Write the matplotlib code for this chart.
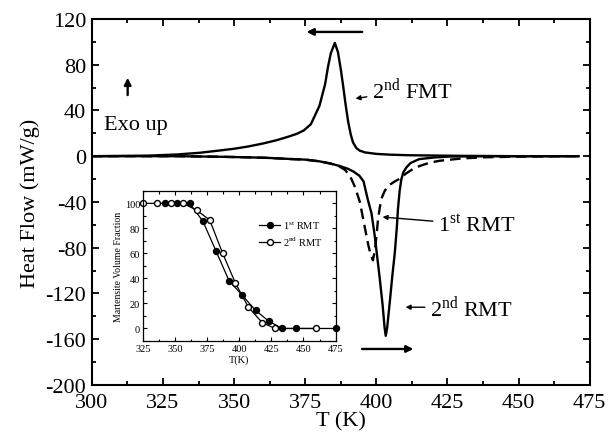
import matplotlib
matplotlib.use("Agg")
import matplotlib.pyplot as plt
from matplotlib.ticker import MultipleLocator

plt.rcParams["font.family"] = ["Liberation Serif", "DejaVu Serif"]
plt.rcParams["mathtext.fontset"] = "custom"
plt.rcParams["mathtext.rm"] = "Liberation Serif"
plt.rcParams["axes.unicode_minus"] = False

# DSC curves (T in K, heat flow in mW/g)
fmt2_T = [300, 320, 330, 338, 345, 350, 355, 360, 365, 369, 372, 374.5, 377, 380, 382, 383,
          384, 385.4, 386.5, 387.5, 388.3, 389.2, 390.1, 391, 391.8, 393, 394.2, 396, 400,
          405, 412, 430, 450, 471]
fmt2_V = [0, 0.5, 1.5, 3, 5, 6.5, 8.5, 11, 14, 17, 19.5, 22.5, 28, 44, 63, 78,
          90, 99, 91, 76, 62, 45, 30, 19, 12, 7, 4.8, 3.3, 2,
          1.3, 0.8, 0.3, 0, 0]

rmt2_T = [300, 330, 345, 355, 362, 370, 375, 380, 384, 387, 390, 392, 394, 395.5, 397,
          398.3, 399.4, 400.3, 401.2, 402.2, 402.9, 403.3, 403.8, 404.7, 405.6, 406.5,
          407.2, 407.6, 408.2, 408.8, 409.5, 410.5, 412, 415, 420, 426, 440, 471]
rmt2_V = [0, 0, -0.5, -1, -1.5, -2.5, -3, -4.5, -6.5, -8.5, -11, -13.5, -17, -22, -38,
          -50, -69, -88, -107, -130, -150, -157, -150, -128, -105, -84,
          -62, -46, -30, -20, -14, -10, -6, -2.6, -1.2, -0.3, 0, 0]

rmt1_T = [300, 330, 345, 355, 362, 370, 375, 380, 384, 387, 389, 390.7, 392.5, 394.2, 396,
          397.2, 398, 398.8, 399.5, 400.1, 400.6, 401.2, 401.8, 403, 404.7, 406.5, 408,
          410.5, 413, 415.3, 419, 422.3, 430, 437.4, 450, 467, 471]
rmt1_V = [0, 0, -0.5, -1, -1.5, -2.5, -3, -4.5, -6.5, -9, -12, -17, -27, -40, -63,
          -78, -86, -91, -82, -68, -55, -45, -37, -30, -25, -22, -20,
          -15, -11, -8.5, -5.5, -4, -2, -1, -0.4, 0, 0]

# inset: martensite volume fraction (%)
vf1_T = [342, 351.5, 361.5, 371.8, 382, 392, 402.4, 412.7, 423, 433.4, 443.8, 475]
vf1_V = [100, 100, 100, 85.5, 61.7, 38.3, 26.4, 14.5, 5.8, 0, 0, 0]
vf2_T = [325, 336, 346.5, 356.3, 367, 377, 387, 397, 407, 418, 428, 460]
vf2_V = [100, 100, 100, 100, 94.4, 86.7, 60.3, 36.3, 17.2, 4.5, 0, 0]

fig = plt.figure(figsize=(6.08, 4.39), dpi=100)
ax = fig.add_axes([0.151, 0.1207, 0.819, 0.834])

ax.plot(fmt2_T, fmt2_V, color="black", lw=1.7)
ax.plot(rmt2_T, rmt2_V, color="black", lw=1.7)
ax.plot(rmt1_T, rmt1_V, color="black", lw=1.7, ls=(0, (4.5, 2.5)))

ax.set_xlim(300, 475)
ax.set_ylim(-200, 120)
ax.xaxis.set_major_locator(MultipleLocator(25))
ax.xaxis.set_minor_locator(MultipleLocator(12.5))
ax.yaxis.set_major_locator(MultipleLocator(40))
ax.yaxis.set_minor_locator(MultipleLocator(20))
ax.tick_params(which="both", direction="in", top=True, right=True, width=1.3)
ax.tick_params(which="major", length=5, labelsize=16)
ax.tick_params(which="minor", length=3)
ax.tick_params(axis="x", pad=6)
ax.tick_params(axis="y", pad=4)
for s in ax.spines.values():
    s.set_linewidth(1.5)
ax.set_xlabel("T (K)", fontsize=16, labelpad=-1)
ax.set_ylabel("Heat Flow (mW/g)", fontsize=16, labelpad=4)

arrow = dict(arrowstyle="-|>", color="black", lw=1.7, mutation_scale=10)
ax.annotate("", xy=(374.5, 108.6), xytext=(396, 108.6), arrowprops=arrow)
ax.annotate("", xy=(414, -168.5), xytext=(394, -168.5), arrowprops=arrow)
ax.annotate("", xy=(312.6, 71), xytext=(312.6, 51), arrowprops=arrow)
ax.text(304.4, 28, "Exo up", fontsize=16, ha="left", va="center")

thin = dict(arrowstyle="-|>", color="black", lw=1.0, mutation_scale=7)
ax.annotate(r"2$^{\mathrm{nd}}$ FMT", xy=(391.7, 50), xytext=(398.6, 58),
            fontsize=16, va="center", ha="left", arrowprops=thin)
ax.annotate(r"1$^{\mathrm{st}}$ RMT", xy=(401.2, -53), xytext=(421.8, -60),
            fontsize=16, va="center", ha="left", arrowprops=thin)
ax.annotate(r"2$^{\mathrm{nd}}$ RMT", xy=(409.3, -132), xytext=(419, -132),
            fontsize=16, va="center", ha="left", arrowprops=thin)

# inset
ins = fig.add_axes([0.235, 0.221, 0.317, 0.342])
ins.plot(vf1_T, vf1_V, color="black", lw=0.9, marker="o", ms=4.3,
         mfc="black", mec="black", clip_on=False, label=r"1$^{\mathrm{st}}$ RMT")
ins.plot(vf2_T, vf2_V, color="black", lw=0.9, marker="o", ms=4.3,
         mfc="white", mec="black", clip_on=False, label=r"2$^{\mathrm{nd}}$ RMT")
ins.set_xlim(325, 475)
ins.set_ylim(-10, 110)
ins.xaxis.set_major_locator(MultipleLocator(25))
ins.xaxis.set_minor_locator(MultipleLocator(12.5))
ins.yaxis.set_major_locator(MultipleLocator(20))
ins.yaxis.set_minor_locator(MultipleLocator(10))
ins.tick_params(which="both", direction="in", top=True, right=True, width=0.8,
                labelsize=7.5, pad=2)
ins.tick_params(which="major", length=3)
ins.tick_params(which="minor", length=1.8)
for s in ins.spines.values():
    s.set_linewidth(0.9)
ins.set_xlabel("T(K)", fontsize=7.5, labelpad=1)
ins.set_ylabel("Martensite Volume Fraction", fontsize=7, labelpad=1)
ins.legend(loc="upper right", bbox_to_anchor=(1.0, 0.9), frameon=False,
           fontsize=7.5, handlelength=2.0, handletextpad=0.3,
           borderaxespad=0.8, labelspacing=0.4)

fig.savefig("out.png", dpi=100)
